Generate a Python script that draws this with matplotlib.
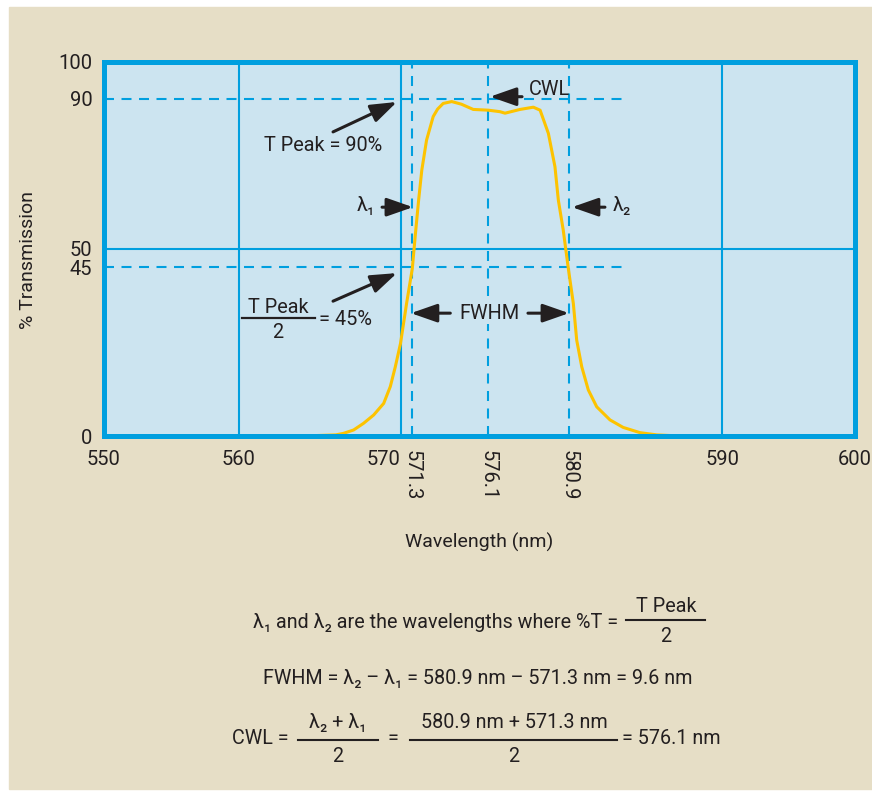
import numpy as np
import matplotlib
matplotlib.use('Agg')
import matplotlib.pyplot as plt
from matplotlib.lines import Line2D
from matplotlib.patches import Rectangle

plt.rcParams['font.family'] = ['Roboto', 'DejaVu Sans']

# transmission curve
wavelength = [564.0, 566.0, 566.47, 567.1, 567.72, 568.34, 568.96, 569.37, 569.68, 570.0,
              570.67, 571.3, 571.5, 571.7, 571.9, 572.2, 572.62, 572.9, 573.25, 573.79,
              574.4, 575.15, 576.1, 576.79, 577.09, 577.98, 578.77, 579.17, 579.66, 580.05,
              580.25, 580.54, 580.84, 581.14, 581.34, 581.64, 582.03, 582.53, 583.32, 584.1,
              585.1, 586.1, 587.5]
transmission = [0, 0.3, 0.7, 1.6, 3.4, 5.6, 8.7, 13.2, 18.5, 24.7,
                35.4, 44.7, 54.1, 63.0, 71.0, 79.0, 85.3, 87.3, 88.8, 89.3,
                88.6, 87.2, 87.0, 86.6, 86.2, 87.2, 87.8, 87.0, 80.8, 71.9,
                63.0, 55.0, 44.8, 35.4, 25.6, 18.5, 12.3, 7.8, 4.3, 2.3,
                0.9, 0.3, 0]

lambda1 = 571.3
cwl = 576.1
lambda2 = 580.9
t_peak = 90
half_peak = 45

x_ticks = [550, 560, 570, lambda1, cwl, lambda2, 590, 600]
x_tick_labels = ['550', '560', '570', '571.3', '576.1', '580.9', '590', '600']
y_ticks = [0, 45, 50, 90, 100]
solid_x = [560, 570, 590]
solid_y = [50]

# the original sketch is not evenly spaced along x
scale_nm = [550, 560, 570, 571.3, 576.1, 580.9, 590, 600]
scale_pos = [0, 135.2, 297.0, 308.8, 384.8, 465.8, 618.8, 751.0]

BLUE = '#009fdf'
FACE = '#cce4f0'
BEIGE = '#e6dec6'
YELLOW = '#fdc300'
INK = '#231f20'

W, H = 872, 794
fig = plt.figure(figsize=(W / 100, H / 100), dpi=100, facecolor='white')
fig.add_artist(Rectangle((9 / W, 1 - 789 / H), (W - 9) / W, 782 / H,
                         transform=fig.transFigure, color=BEIGE, zorder=-5))

ax = fig.add_axes([103.5 / W, 1 - 436 / H, 751 / W, 374.5 / H])
ax.set_xscale('function', functions=(lambda x: np.interp(x, scale_nm, scale_pos),
                                     lambda p: np.interp(p, scale_pos, scale_nm)))
ax.set_xlim(550, 600)
ax.set_ylim(0, 100)
ax.set_facecolor(FACE)
for s in ax.spines.values():
    s.set_color(BLUE)
    s.set_linewidth(3.6)
    s.set_zorder(5)

for x in solid_x:
    ax.axvline(x, color=BLUE, lw=1.5, zorder=1)
for y in solid_y:
    ax.axhline(y, color=BLUE, lw=1.5, zorder=1)
dash = (0, (4.8, 3.6))
for x in [lambda1, cwl, lambda2]:
    ax.axvline(x, color=BLUE, lw=1.5, linestyle=dash, zorder=1)
ax.hlines([t_peak, half_peak], 550, 584.3, color=BLUE, lw=1.5, linestyle=dash, zorder=1)

ax.plot(wavelength, transmission, color=YELLOW, lw=2.2, zorder=3, solid_joinstyle='round')

ax.set_xticks(x_ticks, x_tick_labels)
ax.set_yticks(y_ticks, [str(v) for v in y_ticks])
ax.tick_params(axis='both', length=0, labelsize=14.5, labelcolor=INK)
ax.tick_params(axis='x', pad=10)
ax.tick_params(axis='y', pad=8)
for lbl in ax.get_xticklabels():
    if lbl.get_text() in ('571.3', '576.1', '580.9'):
        lbl.set_rotation(270)
    if lbl.get_text() == '570':
        lbl.set_ha('right')

fig.text(28 / W, 1 - 260 / H, '% Transmission', rotation=90, fontsize=14,
         color=INK, ha='center', va='center')
fig.text(479 / W, 1 - 542 / H, 'Wavelength (nm)', fontsize=14,
         color=INK, ha='center', va='center')


def arrow(tail, tip):
    ax.annotate('', xy=tip, xytext=tail, zorder=4,
                arrowprops=dict(arrowstyle='-|>,head_length=0.8,head_width=0.28',
                                mutation_scale=20, lw=2.2, color=INK,
                                shrinkA=0, shrinkB=0))


fs = 14.3
# CWL
arrow((578.1, 90.6), (576.2, 90.6))
ax.text(578.5, 92.4, 'CWL', fontsize=fs, color=INK, va='center', ha='left')
# T peak
arrow((565.83, 81.2), (569.78, 89.2))
ax.text(565.21, 77.7, 'T Peak = 90%', fontsize=fs, color=INK, va='center', ha='center')
# lambda 1 / lambda 2
arrow((568.86, 61.1), (571.34, 61.1))
ax.text(568.45, 61.6, 'λ₁', fontsize=fs, color=INK, va='center', ha='right')
arrow((583.02, 61.1), (581.06, 61.1))
ax.text(583.5, 61.6, 'λ₂', fontsize=fs, color=INK, va='center', ha='left')
# half peak
arrow((565.83, 36.0), (569.78, 43.5))
ax.text(562.43, 34.2, 'T Peak', fontsize=fs, color=INK, va='center', ha='center')
ax.plot([560.2, 564.72], [31.5, 31.5], color=INK, lw=1.6, zorder=4)
ax.text(562.43, 27.6, '2', fontsize=fs, color=INK, va='center', ha='center')
ax.text(564.97, 31.0, '= 45%', fontsize=fs, color=INK, va='center', ha='left')
# FWHM
arrow((573.7, 32.8), (571.15, 32.8))
arrow((578.45, 32.8), (580.88, 32.8))
ax.text(576.2, 32.8, 'FWHM', fontsize=fs, color=INK, va='center', ha='center', zorder=4,
        bbox=dict(facecolor=FACE, edgecolor='none', pad=1))


def ftext(x, y, s, ha='center'):
    fig.text(x / W, 1 - y / H, s, fontsize=14.2, color=INK, ha=ha, va='center')


def fline(x0, x1, y):
    fig.add_artist(Line2D([x0 / W, x1 / W], [1 - y / H, 1 - y / H],
                          transform=fig.transFigure, color=INK, lw=1.5))


ftext(253, 622, 'λ₁ and λ₂ are the wavelengths where %T =', ha='left')
ftext(666, 606, 'T Peak')
fline(626, 705, 620)
ftext(666, 636, '2')

ftext(263, 678, f'FWHM = λ₂ – λ₁ = {lambda2} nm – {lambda1} nm = {lambda2 - lambda1:.1f} nm',
      ha='left')

ftext(232, 738, 'CWL =', ha='left')
ftext(338, 722, 'λ₂ + λ₁')
fline(298, 378, 740)
ftext(338, 757, '2')
ftext(393, 738, '=')
ftext(514, 722, f'{lambda2} nm + {lambda1} nm')
fline(410, 617, 740)
ftext(514, 757, '2')
ftext(622, 738, f'= {(lambda1 + lambda2) / 2:.1f} nm', ha='left')

fig.savefig('out.png', dpi=100)
